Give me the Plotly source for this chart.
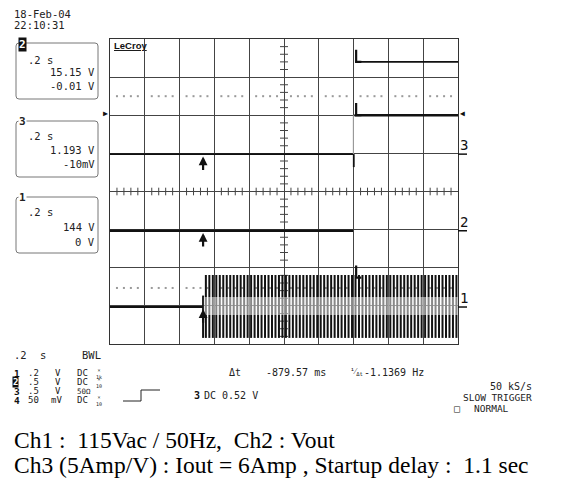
import plotly.graph_objects as go

# ---------------- data (time in s, vertical in divisions) ----------------
time_range = [0.0, 2.0]          # 0.2 s/div, 10 div
div_range = [0.0, 8.0]           # 8 vertical divisions

cursor1_t = 0.535                 # arrow cursor
delta_t = 0.87957                 # -879.57 ms between cursors
cursor2_t = cursor1_t + delta_t

ch1_level = 0.97                  # AC input, before switch-on
ch1_ac_start = 0.535
ch1_ac_period = 0.02              # 50 Hz
ch1_ac_top = 1.81
ch1_ac_bottom = 0.16
ch1_marker_level = 1.74

ch2_low_t = [0.0, 1.397]
ch2_low_level = 2.97
ch2_high_t = [1.41, 2.0]
ch2_high_level = 7.40

ch3_low_t = [0.0, 1.400]
ch3_low_level = 4.98
ch3_step_t = 1.401
ch3_spike_level = 4.64
ch3_high_t = [1.405, 2.0]
ch3_high_level = 6.0

dotted_levels = [6.5, 1.47]

W, H = 568, 485
X0, X1, Y0, Y1 = 110, 458, 39, 344   # plot frame in pixels


def px(x):
    return x / W


def py(y):
    return 1 - y / H


SCOPE_FONT = "DejaVu Sans Mono"
TXT = "#222"
GRID = "#444"

fig = go.Figure()

# ---- grid decorations: centre-line ticks ----
tx, ty = [], []
for i in range(0, 8):
    for f in range(1, 5):
        d = i + f / 5
        tx += [1.0 - 0.023, 1.0 + 0.023, None]
        ty += [d, d, None]
for i in range(0, 10):
    for f in range(1, 5):
        t = (i + f / 5) * 0.2
        tx += [t, t, None]
        ty += [4 - 0.1, 4 + 0.1, None]
fig.add_trace(go.Scatter(x=tx, y=ty, mode="lines", line=dict(color=GRID, width=1), hoverinfo="skip"))

# ---- dotted reference levels ----
dx, dy = [], []
for lvl in dotted_levels:
    for i in range(10):
        for f in range(1, 5):
            dx.append((i + f / 5) * 0.2)
            dy.append(lvl)
fig.add_trace(go.Scatter(x=dx, y=dy, mode="markers",
                         marker=dict(symbol="square", size=2, color="#999", line=dict(width=0)),
                         hoverinfo="skip"))

# ---- channel 1: AC input (flat, then one vertical stroke per 50 Hz cycle) ----
fig.add_trace(go.Scatter(x=[0.0, ch1_ac_start], y=[ch1_level, ch1_level], mode="lines",
                         line=dict(color="#111", width=2), hoverinfo="skip"))
zx, zy = [ch1_ac_start, ch1_ac_start, None], [ch1_level + 0.3, ch1_ac_bottom, None]
t = ch1_ac_start + ch1_ac_period * 0.8
while t <= time_range[1]:
    zx += [t, t, None]
    zy += [ch1_ac_bottom, ch1_ac_top, None]
    t += ch1_ac_period
fig.add_trace(go.Scatter(x=zx, y=zy, mode="lines", line=dict(color="#111", width=2), hoverinfo="skip"))

# ---- channel 2: Vout ----
fig.add_trace(go.Scatter(x=ch2_low_t, y=[ch2_low_level] * 2, mode="lines",
                         line=dict(color="#111", width=2.5), hoverinfo="skip"))
fig.add_trace(go.Scatter(x=ch2_high_t, y=[ch2_high_level] * 2, mode="lines",
                         line=dict(color="#111", width=1.8), hoverinfo="skip"))

# ---- channel 3: Iout ----
fig.add_trace(go.Scatter(x=ch3_low_t, y=[ch3_low_level] * 2, mode="lines",
                         line=dict(color="#111", width=1.6), hoverinfo="skip"))
fig.add_trace(go.Scatter(x=[ch3_step_t - 0.002, ch3_step_t - 0.002], y=[ch3_low_level, ch3_high_level],
                         mode="lines", line=dict(color="#999", width=1.2), hoverinfo="skip"))
fig.add_trace(go.Scatter(x=[ch3_step_t, ch3_step_t], y=[ch3_low_level, ch3_spike_level],
                         mode="lines", line=dict(color="#111", width=1.8), hoverinfo="skip"))
fig.add_trace(go.Scatter(x=ch3_high_t, y=[ch3_high_level] * 2, mode="lines",
                         line=dict(color="#111", width=2.5), hoverinfo="skip"))

# ---- cursor 2 "L" markers ----
lx, ly = [], []
for lvl in [ch2_high_level, ch3_high_level, ch1_marker_level]:
    lx += [cursor2_t, cursor2_t, cursor2_t + 0.03, None]
    ly += [lvl + 0.32, lvl, lvl, None]
fig.add_trace(go.Scatter(x=lx, y=ly, mode="lines", line=dict(color="#111", width=2.2), hoverinfo="skip"))

shapes = []
# lighten middle band of the AC burst (scope persistence look)
shapes.append(dict(type="rect", xref="x", yref="y", x0=ch1_ac_start + 0.004, x1=time_range[1],
                   y0=0.76, y1=1.23, fillcolor="rgba(255,255,255,0.5)", line=dict(width=0), layer="above"))


def rbox(x0, y0, x1, y1, r=3):
    rx, ry = r / W, r / H
    a, b, c, d = px(x0), py(y0), px(x1), py(y1)
    return (f"M {a+rx},{b} L {c-rx},{b} Q {c},{b} {c},{b-ry} L {c},{d+ry} Q {c},{d} {c-rx},{d} "
            f"L {a+rx},{d} Q {a},{d} {a},{d+ry} L {a},{b-ry} Q {a},{b} {a+rx},{b} Z")


for (yt, yb) in [(43, 99), (121, 177), (197, 253)]:
    shapes.append(dict(type="path", xref="paper", yref="paper", path=rbox(16, yt, 98, yb),
                       line=dict(color="#777", width=1)))

# ground underlines on the right
for lvl in [ch3_low_level, ch2_low_level, ch1_level]:
    shapes.append(dict(type="line", xref="paper", yref="y", x0=px(458), x1=px(467), y0=lvl, y1=lvl,
                       line=dict(color="#111", width=1.5)))

# trigger step symbol
shapes.append(dict(type="path", xref="paper", yref="paper",
                   path=f"M {px(123)},{py(401)} L {px(141)},{py(401)} L {px(141)},{py(390)} L {px(160)},{py(390)}",
                   line=dict(color=TXT, width=1)))

ann = []


def txt(x, y, s, anchor="left", size=10.5, color=TXT, family=SCOPE_FONT, **kw):
    ann.append(dict(x=px(x), y=py(y), xref="paper", yref="paper", text=s, showarrow=False,
                    xanchor=anchor, yanchor="middle", font=dict(family=family, size=size, color=color), **kw))


txt(12, 14, "18-Feb-04")
txt(12, 25, "22:10:31")

# box 1 (channel 2)
txt(18, 44, "<b>2</b>", size=11, color="white", bgcolor="#111", borderpad=0)
txt(26, 60, ".2 s")
txt(97, 72, "15.15 V", anchor="right")
txt(97, 86, "-0.01 V", anchor="right")
# box 2 (channel 3)
txt(18, 121, "<b>3</b>", size=11, bgcolor="white", borderpad=0)
txt(26, 136, ".2 s")
txt(97, 150, "1.193 V", anchor="right")
txt(97, 164, "-10mV", anchor="right")
# box 3 (channel 1)
txt(18, 197, "<b>1</b>", size=11, bgcolor="white", borderpad=0)
txt(26, 212, ".2 s")
txt(97, 227, "144 V", anchor="right")
txt(97, 242, "0 V", anchor="right")

txt(112, 45, "<b><u>LeCroy</u></b>", size=9.5, color="#111", family="Liberation Sans")

# right channel labels
txt(458, 145, "3", size=14, color="#111")
txt(458, 222, "2", size=14, color="#111")
txt(458, 298, "1", size=14, color="#111")
txt(458, 113, "◀", size=8, color="#111")
txt(110, 113, "▶", anchor="right", size=8, color="#111")

# bottom status block
txt(12, 355, ".2")
txt(38, 355, "s")
txt(80, 355, "BWL")
rows = [(373, "1", ".2", "V", "DC", "1k"), (382, "2", ".5", "V", "DC", "10"),
        (391, "3", ".5", "V", "50Ω", None), (400, "4", "50", "mV", "DC", "10")]
for (yy, ch, scl, unit, cpl, prb) in rows:
    if ch == "2":
        txt(12, yy, "<b>2</b>", size=9, color="white", bgcolor="#111", borderpad=0)
    else:
        txt(12, yy, f"<b>{ch}</b>", size=9.5, color="#111")
    txt(26, yy, scl, size=9)
    txt(49 if unit == "mV" else 53, yy, unit, size=9)
    txt(75, yy, cpl, size=9 if cpl != "50Ω" else 7.5)
    if prb:
        txt(94, yy, "×<br>" + prb, size=5)

txt(192, 395, "<b>3</b>", size=10, color="#111")
txt(202, 395, "DC 0.52 V", size=10)

txt(227, 372, "Δt", size=10)
txt(264, 372, "-879.57 ms", size=10)
txt(348, 372, "¹⁄<sub>Δt</sub>", size=8)
txt(362, 372, "-1.1369 Hz", size=10)

txt(534, 386, "50 kS/s", anchor="right", size=10)
txt(534, 397, "SLOW TRIGGER", anchor="right", size=9.5)
txt(452, 408, "□", size=10)
txt(472, 408, "NORMAL", size=9.5)

# caption
txt(12, 440, "Ch1 :  115Vac / 50Hz,  Ch2 : Vout", size=23.5, color="black", family="Liberation Serif")
txt(12, 465, "Ch3 (5Amp/V) : Iout = 6Amp , Startup delay :  1.1 sec", size=23.5, color="black",
    family="Liberation Serif")

# cursor arrows
for lvl in [ch3_low_level, ch2_low_level, ch1_level]:
    ann.append(dict(x=cursor1_t, y=lvl - 0.06, xref="x", yref="y", text="", showarrow=True,
                    ax=0, ay=15, arrowhead=2, arrowsize=0.8, arrowwidth=2.2, arrowcolor="#111"))
ann.append(dict(x=cursor2_t - 0.02, y=-0.04, xref="x", yref="y", text="", showarrow=True,
                ax=0, ay=15, arrowhead=2, arrowsize=0.8, arrowwidth=2.2, arrowcolor="#111"))

fig.update_layout(
    width=W, height=H, margin=dict(l=0, r=0, t=0, b=0),
    paper_bgcolor="white", plot_bgcolor="white", showlegend=False,
    shapes=shapes, annotations=ann,
    xaxis=dict(domain=[px(X0), px(X1)], range=time_range, dtick=0.2, tick0=0,
               showgrid=True, gridcolor=GRID, gridwidth=1, zeroline=False,
               showticklabels=False, ticks="", showline=True, linecolor="#333", mirror=True),
    yaxis=dict(domain=[py(Y1), py(Y0)], range=div_range, dtick=1, tick0=0,
               showgrid=True, gridcolor=GRID, gridwidth=1, zeroline=False,
               showticklabels=False, ticks="", showline=True, linecolor="#333", mirror=True),
)

fig.write_html("out.html", config={"displayModeBar": False},
               post_script="document.body.style.margin='0px';")
